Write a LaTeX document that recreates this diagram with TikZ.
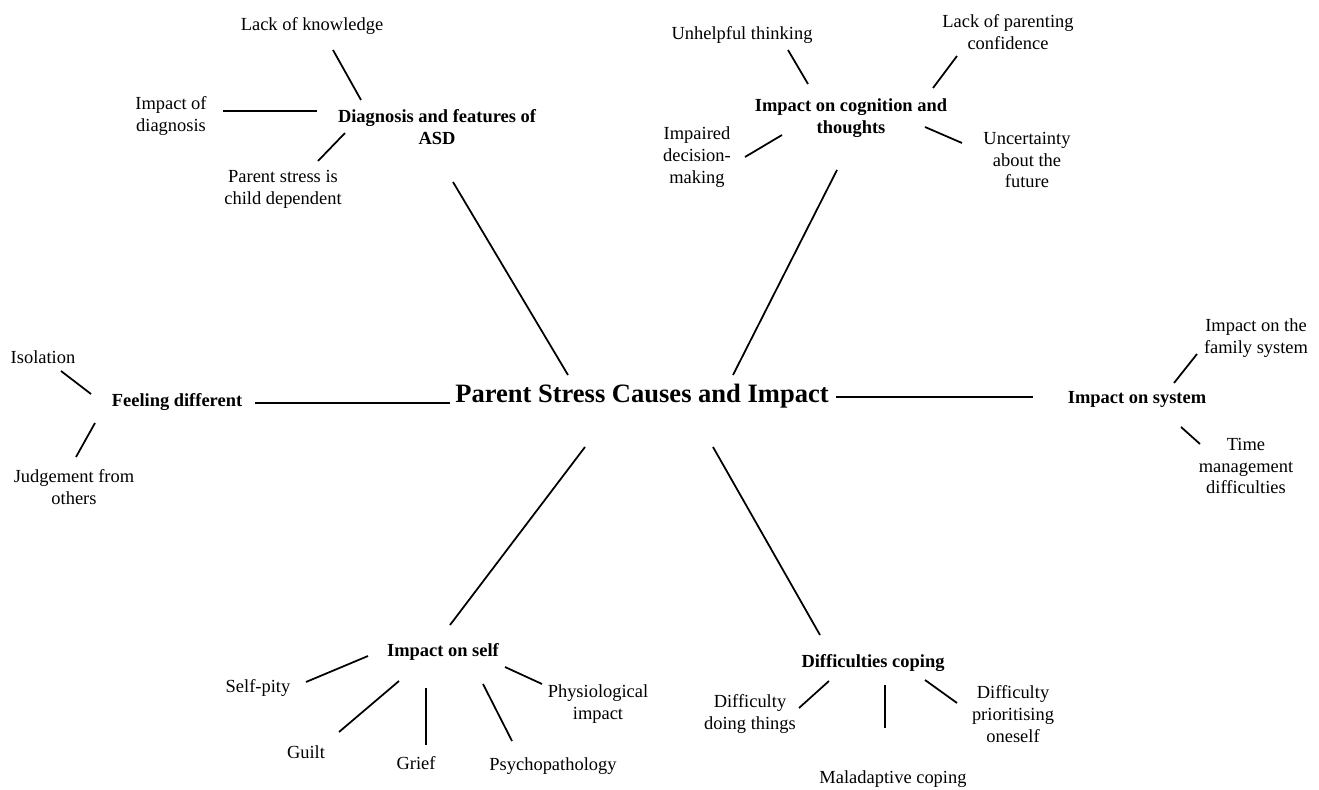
\documentclass[tikz,border=0pt]{standalone}
\usepackage{fontspec}
\setmainfont{Liberation Serif}
\usetikzlibrary{positioning}
\tikzset{
  leaf/.style={align=center, inner sep=0pt, font=\fontsize{10.5}{12.5}\selectfont},
  theme/.style={align=center, inner sep=0pt, font=\fontsize{10.5}{12.5}\selectfont\bfseries},
  hub/.style={inner sep=0pt, font=\fontsize{15.1}{18}\selectfont\bfseries},
  link/.style={line width=1pt},
}
\begin{document}
\begin{tikzpicture}[x=0.02cm, y=-0.02cm]
    \fill[white] (0,0) rectangle (1319,790);
    \useasboundingbox (0,0) rectangle (1319,790);
    % centre
    \node[hub] (root) at (642,396) {Parent Stress Causes and Impact};
    % diagnosis
    \node[theme] (diag) at (437,127) {Diagnosis and features of\\ASD};
    \node[leaf] (know) at (312,26) {Lack of knowledge};
    \node[leaf] (impdiag) at (171,116) {Impact of\\diagnosis};
    \node[leaf] (child) at (283,189) {Parent stress is\\child dependent};
    % cognition
    \node[theme] (cog) at (851,118) {Impact on cognition and\\thoughts};
    \node[leaf] (unhelp) at (742,35) {Unhelpful thinking};
    \node[leaf] (confid) at (1008,32) {Lack of parenting\\confidence};
    \node[leaf] (decis) at (697,157) {Impaired\\decision-\\making};
    \node[leaf] (future) at (1027,160) {Uncertainty\\about the\\future};
    % feeling different
    \node[theme] (diff) at (177,402) {Feeling different};
    \node[leaf] (isol) at (43,357) {Isolation};
    \node[leaf] (judge) at (74,487) {Judgement from\\others};
    % system
    \node[theme] (sys) at (1137,399) {Impact on system};
    \node[leaf] (family) at (1256,338) {Impact on the\\family system};
    \node[leaf] (time) at (1246,466) {Time\\management\\difficulties};
    % self
    \node[theme] (self) at (443,652) {Impact on self};
    \node[leaf] (pity) at (258,688) {Self-pity};
    \node[leaf] (guilt) at (306,752) {Guilt};
    \node[leaf] (grief) at (416,763) {Grief};
    \node[leaf] (psycho) at (553,766) {Psychopathology};
    \node[leaf] (physio) at (598,704) {Physiological\\impact};
    % coping
    \node[theme] (cope) at (873,663) {Difficulties coping};
    \node[leaf] (doing) at (750,714) {Difficulty\\doing things};
    \node[leaf] (malad) at (893,779) {Maladaptive coping};
    \node[leaf] (prior) at (1013,714) {Difficulty\\prioritising\\oneself};

    % free ends of the connectors
    \coordinate (root-diag) at (568,375);   \coordinate (diag-root) at (453,182);
    \coordinate (root-cog) at (733,375);    \coordinate (cog-root) at (837,170);
    \coordinate (root-diff) at (450,403);   \coordinate (diff-root) at (255,403);
    \coordinate (root-sys) at (836,397);    \coordinate (sys-root) at (1033,397);
    \coordinate (root-self) at (585,447);   \coordinate (self-root) at (450,625);
    \coordinate (root-cope) at (713,447);   \coordinate (cope-root) at (820,635);
    \coordinate (diag-know) at (361,100);   \coordinate (know-diag) at (333,50);
    \coordinate (diag-impdiag) at (317,111); \coordinate (impdiag-diag) at (223,111);
    \coordinate (diag-child) at (345,133);  \coordinate (child-diag) at (318,161);
    \coordinate (cog-unhelp) at (808,84);   \coordinate (unhelp-cog) at (788,50);
    \coordinate (cog-confid) at (933,88);   \coordinate (confid-cog) at (957,56);
    \coordinate (cog-decis) at (782,135);   \coordinate (decis-cog) at (745,157);
    \coordinate (cog-future) at (925,127);  \coordinate (future-cog) at (962,143);
    \coordinate (diff-isol) at (91,394);    \coordinate (isol-diff) at (61,371);
    \coordinate (diff-judge) at (95,423);   \coordinate (judge-diff) at (76,457);
    \coordinate (sys-family) at (1174,383); \coordinate (family-sys) at (1197,354);
    \coordinate (sys-time) at (1181,427);   \coordinate (time-sys) at (1200,444);
    \coordinate (self-pity) at (368,656);   \coordinate (pity-self) at (306,682);
    \coordinate (self-guilt) at (399,681);  \coordinate (guilt-self) at (339,732);
    \coordinate (self-grief) at (426,688);  \coordinate (grief-self) at (426,745);
    \coordinate (self-psycho) at (483,684); \coordinate (psycho-self) at (512,741);
    \coordinate (self-physio) at (505,667); \coordinate (physio-self) at (542,684);
    \coordinate (cope-doing) at (829,681);  \coordinate (doing-cope) at (799,708);
    \coordinate (cope-malad) at (885,685);  \coordinate (malad-cope) at (885,728);
    \coordinate (cope-prior) at (925,680);  \coordinate (prior-cope) at (957,703);

    \foreach \a/\b in {root/diag, root/cog, root/diff, root/sys, root/self, root/cope,
        diag/know, diag/impdiag, diag/child,
        cog/unhelp, cog/confid, cog/decis, cog/future,
        diff/isol, diff/judge, sys/family, sys/time,
        self/pity, self/guilt, self/grief, self/psycho, self/physio,
        cope/doing, cope/malad, cope/prior}
      \draw[link] (\a-\b) -- (\b-\a);
\end{tikzpicture}
\end{document}
